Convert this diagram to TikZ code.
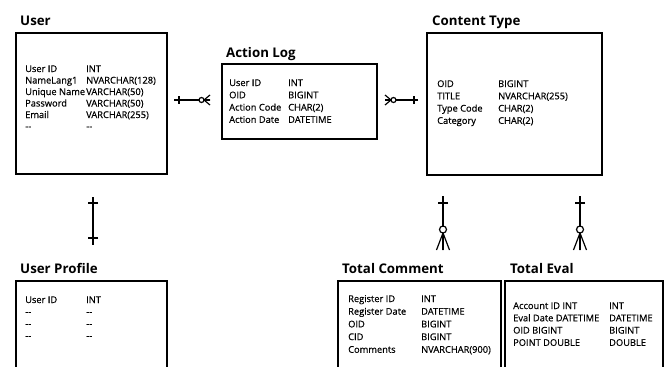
\documentclass[tikz,border=0pt]{standalone}
\usepackage{fontspec}
\setmainfont{Open Sans}
\newfontfamily\bodyfont{Open Sans}[FakeBold=0.5]

% width of the name column in a table box
\newlength\colw
\newcommand\fld[2]{\makebox[\colw][l]{#1}#2}

\tikzset{
  tbl/.style={draw, line width=1.5pt, anchor=north west, inner sep=0pt},
  ttl/.style={anchor=base west, inner sep=0pt, font=\fontsize{13.3}{15}\selectfont\bfseries},
  fields/.style={anchor=base west, inner sep=0pt, font=\bodyfont\fontsize{9.3}{#1}\selectfont},
  cw/.code={\setlength\colw{#1}},
  rel/.style={line width=1.2pt},
  % one: a bar across the line
  pics/bar/.style={code={\draw[rel] (0,-#1) -- (0,#1);}},
  % zero or many: circle + crow's foot (length, spread, radius)
  pics/crow/.style n args={3}{code={
      \draw[rel] (-#1,0) -- (0,#2) (-#1,0) -- (0,-#2) (-#1,0) -- (0,0);
      \draw[rel, fill=white] (-#1-#3,0) circle[radius=#3pt];
  }},
}

\begin{document}
\begin{tikzpicture}[x=1pt, y=-1pt]
  \clip (0,0) rectangle (670,367);

  % tables
  \node[tbl, minimum width=151pt, minimum height=141pt] (usr) at (15,32) {};
  \node[ttl] (usrT) at (20,25) {User};
  \node[fields=11.5, cw=61pt] (usrF) at (25,72) {\begin{tabular}[t]{@{}l@{}}
      \fld{User ID}{INT}\\
      \fld{NameLang1}{NVARCHAR(128)}\\
      \fld{Unique Name}{VARCHAR(50)}\\
      \fld{Password}{VARCHAR(50)}\\
      \fld{Email}{VARCHAR(255)}\\
      \fld{-{}-}{-{}-}
    \end{tabular}};

  \node[tbl, minimum width=155pt, minimum height=75pt] (log) at (221,63) {};
  \node[ttl] (logT) at (226,57) {Action Log};
  \node[fields=12.3, cw=59pt] (logF) at (229,86) {\begin{tabular}[t]{@{}l@{}}
      \fld{User ID}{INT}\\
      \fld{OID}{BIGINT}\\
      \fld{Action Code}{CHAR(2)}\\
      \fld{Action Date}{DATETIME}
    \end{tabular}};

  \node[tbl, minimum width=175pt, minimum height=142pt] (cnt) at (426,32) {};
  \node[ttl] (cntT) at (432,25) {Content Type};
  \node[fields=12.3, cw=61pt] (cntF) at (437,87) {\begin{tabular}[t]{@{}l@{}}
      \fld{OID}{BIGINT}\\
      \fld{TITLE}{NVARCHAR(255)}\\
      \fld{Type Code}{CHAR(2)}\\
      \fld{Category}{CHAR(2)}
    \end{tabular}};

  \node[tbl, minimum width=151pt, minimum height=110pt] (prf) at (15,280) {};
  \node[ttl] (prfT) at (20,273) {User Profile};
  \node[fields=12, cw=61pt] (prfF) at (25,303) {\begin{tabular}[t]{@{}l@{}}
      \fld{User ID}{INT}\\
      \fld{-{}-}{-{}-}\\
      \fld{-{}-}{-{}-}\\
      \fld{-{}-}{-{}-}
    \end{tabular}};

  \node[tbl, minimum width=163pt, minimum height=110pt] (cmt) at (337,280) {};
  \node[ttl] (cmtT) at (342,273) {Total Comment};
  \node[fields=12.7, cw=73pt] (cmtF) at (348,302) {\begin{tabular}[t]{@{}l@{}}
      \fld{Register ID}{INT}\\
      \fld{Register Date}{DATETIME}\\
      \fld{OID}{BIGINT}\\
      \fld{CID}{BIGINT}\\
      \fld{Comments}{NVARCHAR(900)}
    \end{tabular}};

  \node[tbl, minimum width=158pt, minimum height=110pt] (evl) at (504,280) {};
  \node[ttl] (evlT) at (510,273) {Total Eval};
  \node[fields=12.3, cw=96pt] (evlF) at (513,309) {\begin{tabular}[t]{@{}l@{}}
      \fld{Account ID INT}{INT}\\
      \fld{Eval Date DATETIME}{DATETIME}\\
      \fld{OID BIGINT}{BIGINT}\\
      \fld{POINT DOUBLE}{DOUBLE}
    \end{tabular}};

  % relationship ends
  \coordinate (usrLogA) at (174,100);
  \coordinate (usrLogB) at (210,100);
  \coordinate (cntLogA) at (418,100);
  \coordinate (cntLogB) at (385,100);
  \coordinate (usrPrfA) at (93,197);
  \coordinate (usrPrfB) at (93,245);
  \coordinate (cntCmtA) at (443,196);
  \coordinate (cntCmtB) at (443,250);
  \coordinate (cntEvlA) at (580,196);
  \coordinate (cntEvlB) at (580,250);

  % relationships
  \draw[rel] (usrLogA) -- (usrLogB)
    pic[pos=0.14, sloped]{bar=4}
    pic[pos=1, sloped, allow upside down]{crow={6}{5}{2.5}};
  \draw[rel] (cntLogA) -- (cntLogB)
    pic[pos=0.12, sloped, allow upside down]{bar=4}
    pic[pos=1, sloped, allow upside down]{crow={6}{5}{2.5}};
  \draw[rel] (usrPrfA) -- (usrPrfB)
    pic[pos=0.125, sloped]{bar=5}
    pic[pos=0.854, sloped]{bar=5};
  \draw[rel] (cntCmtA) -- (cntCmtB)
    pic[pos=0.13, sloped]{bar=5}
    pic[pos=1, sloped]{crow={17}{6.5}{3.5}};
  \draw[rel] (cntEvlA) -- (cntEvlB)
    pic[pos=0.13, sloped]{bar=5}
    pic[pos=1, sloped]{crow={17}{6.5}{3.5}};
\end{tikzpicture}
\end{document}
